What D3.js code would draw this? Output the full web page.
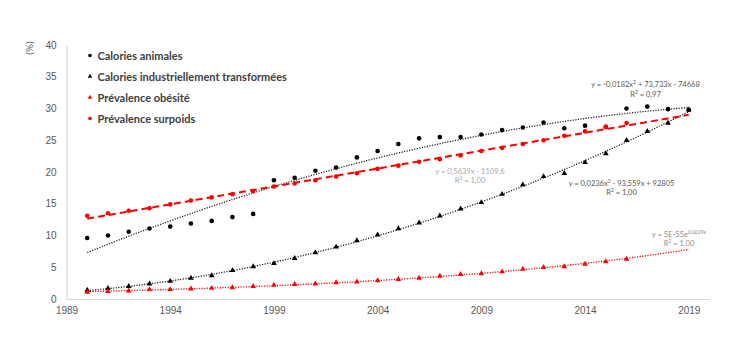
<!DOCTYPE html>
<html><head><meta charset="utf-8">
<script src="https://cdn.jsdelivr.net/npm/d3@7"></script>
<style>
html,body{margin:0;padding:0;background:#fff;}
svg{display:block;font-family:Lato,"Open Sans",sans-serif;}
</style></head>
<body><svg id="c" width="754" height="348"></svg>
<script>
const years = d3.range(1990, 2020);
const caloriesAnimales = [9.6,10.0,10.6,11.1,11.4,11.9,12.3,12.9,13.4,18.7,19.1,20.2,20.7,22.3,23.3,24.4,25.3,25.5,25.5,25.9,26.6,27.0,27.8,26.9,27.3,27.1,30.0,30.3,29.9,29.8];
const caloriesTransformees = [1.4,1.7,2.0,2.4,2.8,3.3,3.7,4.5,5.1,5.6,6.4,7.3,8.2,9.2,10.1,11.1,12.0,13.1,14.2,15.2,16.5,18.0,19.3,19.8,21.5,22.9,25.0,26.4,27.7,29.8];
const prevalenceObesite = [1.1,1.2,1.3,1.5,1.5,1.6,1.7,1.8,2.0,2.2,2.3,2.4,2.6,2.7,2.9,3.1,3.3,3.6,3.9,4.0,4.3,4.7,5.0,5.1,5.5,5.9,6.3];
const prevalenceSurpoids = [13.1,13.5,13.9,14.3,14.9,15.5,16.0,16.5,17.0,17.7,18.2,18.7,19.3,19.8,20.5,21.0,21.6,22.0,22.6,23.3,23.8,24.4,25.0,25.7,26.4,27.1,27.7];
const legendLabels = ["Calories animales","Calories industriellement transformées","Prévalence obésité","Prévalence surpoids"];
const yTicks = [0,5,10,15,20,25,30,35,40];
const xTicks = [1989,1994,1999,2004,2009,2014,2019];

const svg = d3.select("#c");
const x = d3.scaleLinear().domain([1989, 2020]).range([66.5, 709.5]);
const y = d3.scaleLinear().domain([0, 40]).range([299, 45]);

// axes
const gy = svg.append("g").attr("transform","translate(66.5,0)")
  .call(d3.axisLeft(y).tickValues(yTicks).tickSize(0).tickPadding(10));
gy.select(".domain").attr("stroke","#d9d9d9").attr("stroke-width",1.2);
gy.selectAll("text").attr("fill","#595959").attr("font-size",10);
const gx = svg.append("g").attr("transform","translate(0,299)")
  .call(d3.axisBottom(x).tickValues(xTicks).tickFormat(d3.format("d")).tickSize(0).tickPadding(8));
gx.select(".domain").attr("stroke","#d9d9d9").attr("stroke-width",1.2);
gx.selectAll("text").attr("fill","#595959").attr("font-size",10);

svg.append("text").attr("transform","translate(33,48) rotate(-90)")
  .attr("text-anchor","middle").attr("fill","#595959").attr("font-size",10).text("(%)");

// fitting helpers
function polyfit(xs, ys, deg){
  const n = deg+1, A = Array.from({length:n},()=>Array(n+1).fill(0));
  xs.forEach((xv,i)=>{const t=xv-2005;
    for(let r=0;r<n;r++){for(let c=0;c<n;c++)A[r][c]+=Math.pow(t,r+c);A[r][n]+=ys[i]*Math.pow(t,r);}});
  for(let i=0;i<n;i++){let p=i;for(let k=i+1;k<n;k++)if(Math.abs(A[k][i])>Math.abs(A[p][i]))p=k;
    [A[i],A[p]]=[A[p],A[i]];
    for(let k=0;k<n;k++){if(k===i)continue;const f=A[k][i]/A[i][i];for(let c=i;c<=n;c++)A[k][c]-=f*A[i][c];}}
  const coef=A.map((r,i)=>r[n]/r[i]);
  return xv=>coef.reduce((s,c,i)=>s+c*Math.pow(xv-2005,i),0);
}
function expfit(xs, ys){
  const f = polyfit(xs, ys.map(Math.log), 1);
  return xv=>Math.exp(f(xv));
}
const samp = d3.range(1990, 2019.001, 0.25);
const line = d3.line().x(d=>x(d[0])).y(d=>y(d[1]));
function trend(fn, stroke, w, dash){
  svg.append("path").attr("d", line(samp.map(t=>[t, fn(t)])))
    .attr("fill","none").attr("stroke",stroke).attr("stroke-width",w).attr("stroke-dasharray",dash);
}
const yA = years.slice(0, caloriesAnimales.length);
const yT = years.slice(0, caloriesTransformees.length);
const yO = years.slice(0, prevalenceObesite.length);
const yS = years.slice(0, prevalenceSurpoids.length);

trend(polyfit(yA, caloriesAnimales, 2), "#222", 1.3, "1.2,1.4");
trend(polyfit(yT, caloriesTransformees, 2), "#222", 1.3, "1.2,1.4");
trend(expfit(yO, prevalenceObesite), "#ff0000", 1.3, "1.2,1.4");
trend(polyfit(yS, prevalenceSurpoids, 1), "#ff0000", 2, "7,4");

// markers
const tri = d3.symbol().type(d3.symbolTriangle).size(14);
function circles(xs, vs, color){
  svg.append("g").selectAll("circle").data(vs).join("circle")
    .attr("cx",(d,i)=>x(xs[i])).attr("cy",d=>y(d)).attr("r",2.3).attr("fill",color);
}
function triangles(xs, vs, color){
  svg.append("g").selectAll("path").data(vs).join("path")
    .attr("d",tri).attr("transform",(d,i)=>`translate(${x(xs[i])},${y(d)})`).attr("fill",color);
}
circles(yA, caloriesAnimales, "#000");
triangles(yT, caloriesTransformees, "#000");
triangles(yO, prevalenceObesite, "#ff0000");
circles(yS, prevalenceSurpoids, "#ff0000");

// legend
const lg = svg.append("g");
const lgColors = ["#000","#000","#ff0000","#ff0000"];
const lgShapes = ["c","t","t","c"];
legendLabels.forEach((lab,i)=>{
  const cy = 55.5 + i*21;
  if(lgShapes[i]==="c") lg.append("circle").attr("cx",90).attr("cy",cy).attr("r",1.8).attr("fill",lgColors[i]);
  else lg.append("path").attr("d",d3.symbol().type(d3.symbolTriangle).size(9)).attr("transform",`translate(90,${cy})`).attr("fill",lgColors[i]);
  lg.append("text").attr("x",97.5).attr("y",cy+4).attr("fill","#404040").attr("font-size",11)
    .attr("font-weight",700).text(lab);
});

// equations
function eq(cx, cy, parts, color){
  const t = svg.append("text").attr("x",cx).attr("y",cy).attr("text-anchor","middle")
    .attr("font-size",7.5).attr("fill",color);
  parts.forEach(p=>{
    const s = t.append("tspan").text(p.t);
    if(p.sup) s.attr("baseline-shift","super").attr("font-size",5);
  });
}
eq(645.5, 86.5, [{t:"y = -0,0182x"},{t:"2",sup:true},{t:" + 73,733x - 74668"}], "#595959");
eq(645.5, 96.5, [{t:"R"},{t:"2",sup:true},{t:" = 0,97"}], "#595959");
eq(470, 173.5, [{t:"y = 0,5639x - 1109,6"}], "#a6a6a6");
eq(470, 182.5, [{t:"R"},{t:"2",sup:true},{t:" = 1,00"}], "#a6a6a6");
eq(621.5, 186, [{t:"y = 0,0236x"},{t:"2",sup:true},{t:" - 93,559x + 92805"}], "#595959");
eq(621.5, 195, [{t:"R"},{t:"2",sup:true},{t:" = 1,00"}], "#595959");
eq(679, 236.5, [{t:"y = 5E-55e"},{t:"0,0629x",sup:true}], "#8c8c8c");
eq(679, 245.5, [{t:"R"},{t:"2",sup:true},{t:" = 1,00"}], "#8c8c8c");
</script></body></html>
